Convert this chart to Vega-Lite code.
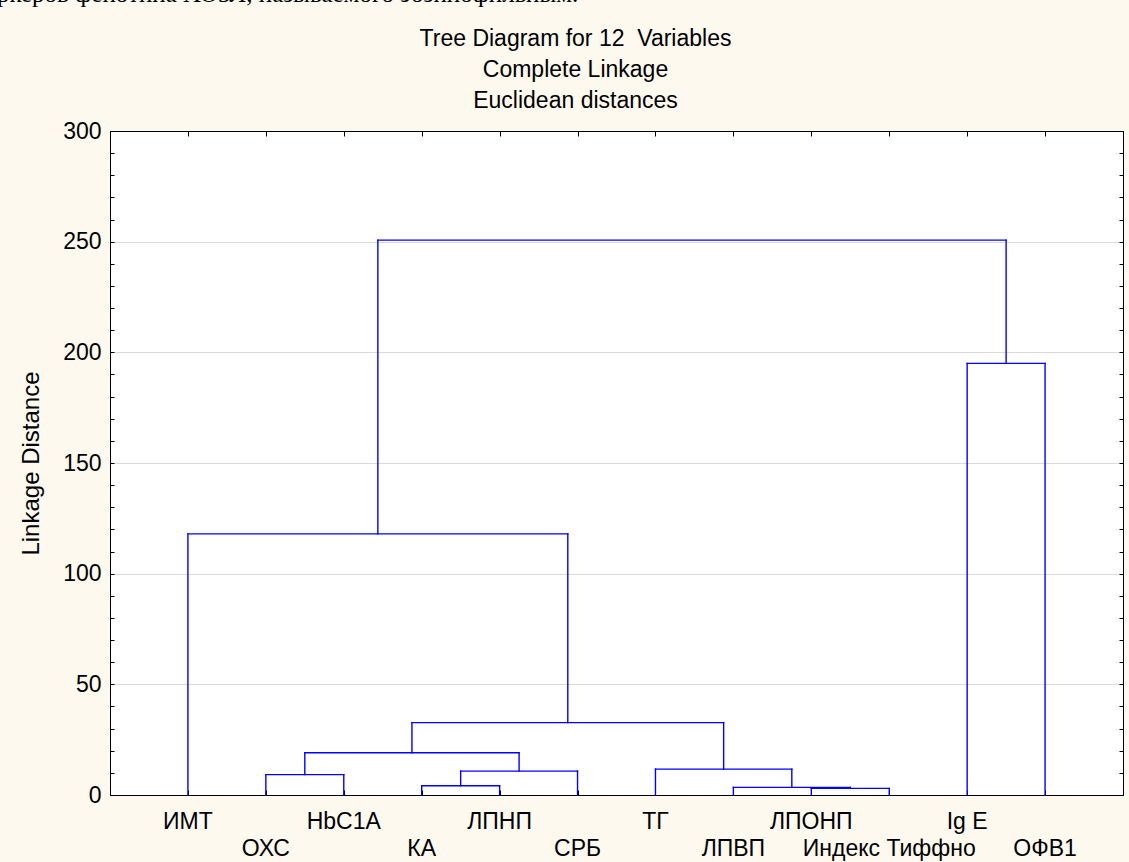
{
  "$schema": "https://vega.github.io/schema/vega-lite/v6.json",
  "width": 1013,
  "height": 664,
  "autosize": "none",
  "padding": {"left": 110, "top": 131, "right": 6, "bottom": 67},
  "background": "#fdf9ef",
  "config": {
    "font": "Liberation Sans",
    "view": {"stroke": "#000000", "strokeWidth": 1, "fill": "#ffffff"}
  },
  "title": {
    "text": "ркеров фенотипа ХОЗЛ, называемого эозинофильным.",
    "font": "Liberation Serif",
    "fontSize": 25,
    "fontWeight": "normal",
    "color": "#000000",
    "anchor": "start",
    "frame": "group",
    "baseline": "alphabetic",
    "offset": 0,
    "dx": -113
  },
  "datasets": {
    "links": [
      {"x": 4, "x2": 5, "y": 4.2, "y2": 4.2},
      {"x": 4, "x2": 4, "y": 0, "y2": 4.2},
      {"x": 5, "x2": 5, "y": 0, "y2": 4.2},
      {"x": 9, "x2": 10, "y": 3.0, "y2": 3.0},
      {"x": 9, "x2": 9, "y": 0, "y2": 3.0},
      {"x": 10, "x2": 10, "y": 0, "y2": 3.0},
      {"x": 8, "x2": 9.5, "y": 3.45, "y2": 3.45},
      {"x": 8, "x2": 8, "y": 0, "y2": 3.45},
      {"x": 9.5, "x2": 9.5, "y": 3.0, "y2": 3.45},
      {"x": 2, "x2": 3, "y": 9.2, "y2": 9.2},
      {"x": 2, "x2": 2, "y": 0, "y2": 9.2},
      {"x": 3, "x2": 3, "y": 0, "y2": 9.2},
      {"x": 4.5, "x2": 6, "y": 10.8, "y2": 10.8},
      {"x": 4.5, "x2": 4.5, "y": 4.2, "y2": 10.8},
      {"x": 6, "x2": 6, "y": 0, "y2": 10.8},
      {"x": 7, "x2": 8.75, "y": 11.7, "y2": 11.7},
      {"x": 7, "x2": 7, "y": 0, "y2": 11.7},
      {"x": 8.75, "x2": 8.75, "y": 3.45, "y2": 11.7},
      {"x": 2.5, "x2": 5.25, "y": 19.1, "y2": 19.1},
      {"x": 2.5, "x2": 2.5, "y": 9.2, "y2": 19.1},
      {"x": 5.25, "x2": 5.25, "y": 10.8, "y2": 19.1},
      {"x": 3.875, "x2": 7.875, "y": 32.7, "y2": 32.7},
      {"x": 3.875, "x2": 3.875, "y": 19.1, "y2": 32.7},
      {"x": 7.875, "x2": 7.875, "y": 11.7, "y2": 32.7},
      {"x": 1, "x2": 5.875, "y": 118, "y2": 118},
      {"x": 1, "x2": 1, "y": 0, "y2": 118},
      {"x": 5.875, "x2": 5.875, "y": 32.7, "y2": 118},
      {"x": 11, "x2": 12, "y": 195, "y2": 195},
      {"x": 11, "x2": 11, "y": 0, "y2": 195},
      {"x": 12, "x2": 12, "y": 0, "y2": 195},
      {"x": 3.4375, "x2": 11.5, "y": 250.7, "y2": 250.7},
      {"x": 3.4375, "x2": 3.4375, "y": 118, "y2": 250.7},
      {"x": 11.5, "x2": 11.5, "y": 195, "y2": 250.7}
    ],
    "leaves": [
      {"pos": 1, "name": "ИМТ"},
      {"pos": 2, "name": "ОХС"},
      {"pos": 3, "name": "HbC1A"},
      {"pos": 4, "name": "КА"},
      {"pos": 5, "name": "ЛПНП"},
      {"pos": 6, "name": "СРБ"},
      {"pos": 7, "name": "ТГ"},
      {"pos": 8, "name": "ЛПВП"},
      {"pos": 9, "name": "ЛПОНП"},
      {"pos": 10, "name": "Индекс Тиффно"},
      {"pos": 11, "name": "Ig E"},
      {"pos": 12, "name": "ОФВ1"}
    ]
  },
  "layer": [
    {
      "data": {"name": "links"},
      "mark": {"type": "rule", "color": "#0000ff", "strokeWidth": 1.4, "strokeCap": "square"},
      "encoding": {
        "x": {
          "field": "x", "type": "quantitative",
          "scale": {"domain": [0, 13], "nice": false, "zero": false},
          "axis": {
            "orient": "bottom", "values": [1,2,3,4,5,6,7,8,9,10,11,12],
            "labels": false, "title": null, "grid": false,
            "domain": true, "domainColor": "#000000", "domainWidth": 1,
            "ticks": true, "tickSize": -5, "tickColor": "#000000", "tickWidth": 1
          }
        },
        "x2": {"field": "x2"},
        "y": {
          "field": "y", "type": "quantitative",
          "scale": {"domain": [0, 300], "nice": false},
          "axis": {
            "orient": "left",
            "values": [0,10,20,30,40,50,60,70,80,90,100,110,120,130,140,150,160,170,180,190,200,210,220,230,240,250,260,270,280,290,300],
            "labelExpr": "datum.value % 50 === 0 ? datum.label : ''",
            "labelFontSize": 23, "labelColor": "#000000", "labelPadding": 13,
            "labelFont": "Liberation Sans",
            "domain": true, "domainColor": "#000000", "domainWidth": 1,
            "ticks": true, "tickSize": -4, "tickColor": "#000000", "tickWidth": 1,
            "grid": true, "gridColor": "#d9d9d9", "gridWidth": 1,
            "gridOpacity": {"condition": {"test": "datum.value % 50 === 0 && datum.value > 0 && datum.value < 300", "value": 1}, "value": 0},
            "title": "Linkage Distance",
            "titleFont": "Liberation Sans", "titleFontSize": 24, "titleFontWeight": "normal",
            "titleColor": "#000000", "titleX": -72, "titleBaseline": "alphabetic"
          }
        },
        "y2": {"field": "y2"}
      }
    },
    {
      "data": {"name": "links"},
      "mark": {"type": "rule", "opacity": 0},
      "encoding": {
        "x": {
          "field": "x", "type": "quantitative",
          "axis": {
            "orient": "top", "values": [1,2,3,4,5,6,7,8,9,10,11,12],
            "labels": false, "grid": false,
            "domain": true, "domainColor": "#000000",
            "ticks": true, "tickSize": -5, "tickColor": "#000000", "tickWidth": 1,
            "title": ["Tree Diagram for 12\u00a0 Variables", "Complete Linkage", "Euclidean distances"],
            "titleFont": "Liberation Sans", "titleFontSize": 23, "titleFontWeight": "normal",
            "titleColor": "#000000", "titleLineHeight": 31,
            "titleX": 465, "titleY": -86, "titleBaseline": "alphabetic", "titleAlign": "center"
          }
        },
        "x2": {"field": "x2"},
        "y": {
          "field": "y", "type": "quantitative",
          "axis": {
            "orient": "right",
            "values": [0,10,20,30,40,50,60,70,80,90,100,110,120,130,140,150,160,170,180,190,200,210,220,230,240,250,260,270,280,290,300],
            "labels": false, "grid": false, "title": null,
            "domain": true, "domainColor": "#000000",
            "ticks": true, "tickSize": -4, "tickColor": "#000000", "tickWidth": 1
          }
        },
        "y2": {"field": "y2"}
      }
    },
    {
      "data": {"name": "leaves"},
      "transform": [{"filter": "datum.pos % 2 === 1"}],
      "mark": {"type": "text", "fontSize": 23, "font": "Liberation Sans", "color": "#000000", "baseline": "alphabetic", "align": "center", "dy": 33.5},
      "encoding": {
        "x": {"field": "pos", "type": "quantitative", "axis": null},
        "y": {"datum": 0, "type": "quantitative", "axis": null},
        "text": {"field": "name"}
      }
    },
    {
      "data": {"name": "leaves"},
      "transform": [{"filter": "datum.pos % 2 === 0"}],
      "mark": {"type": "text", "fontSize": 23, "font": "Liberation Sans", "color": "#000000", "baseline": "alphabetic", "align": "center", "dy": 60.5},
      "encoding": {
        "x": {"field": "pos", "type": "quantitative", "axis": null},
        "y": {"datum": 0, "type": "quantitative", "axis": null},
        "text": {"field": "name"}
      }
    }
  ],
  "resolve": {"axis": {"x": "independent", "y": "independent"}}
}
